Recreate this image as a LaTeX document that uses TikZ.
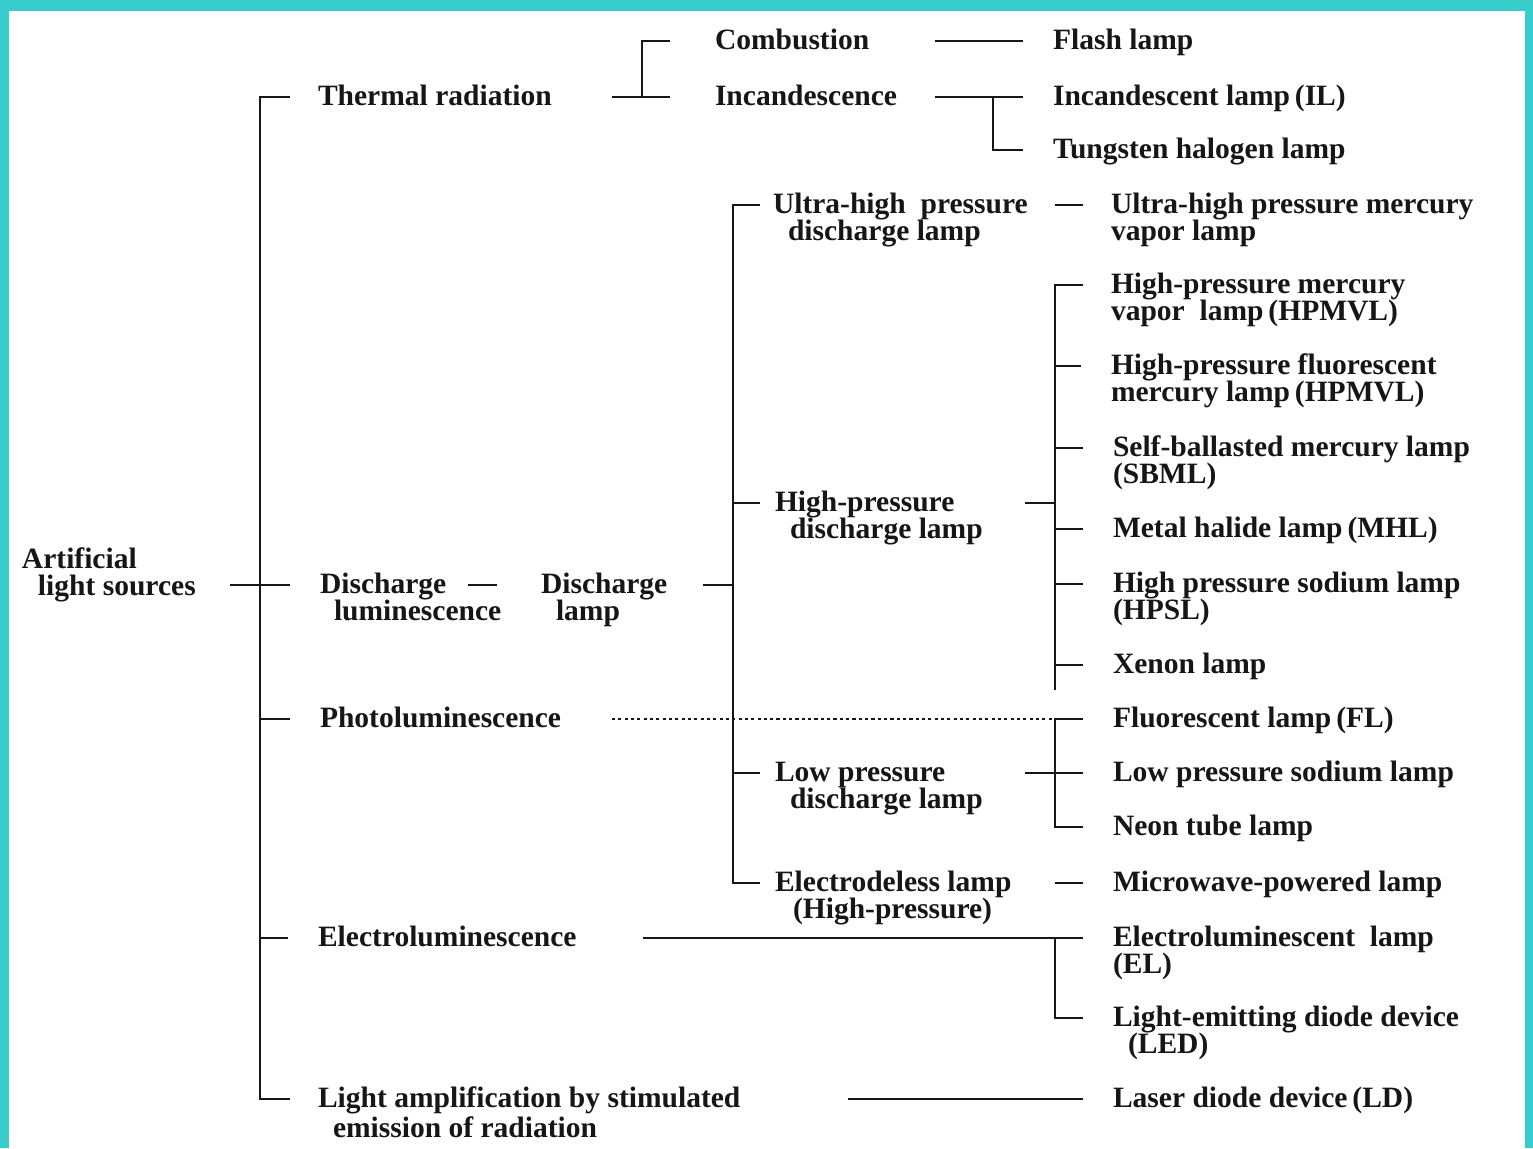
\documentclass[tikz,border=0pt]{standalone}
\usepackage{fontspec}
\setmainfont{Liberation Serif}
\usetikzlibrary{calc}
\definecolor{Frame}{HTML}{38CCCC}
\definecolor{Ink}  {HTML}{161616}
% two-line label, baseline on the first line
\newcommand{\twoline}[2]{\vtop{\hbox{#1}\hbox{#2}}}
\tikzset{
  lbl/.style={
    anchor=mid west, inner sep=0pt, outer sep=0pt,
    text=Ink,
    font=\fontsize{8.4}{7.7}\selectfont\bfseries,
  },
  wire/.style={draw=Ink, line width=0.75pt},
  dots/.style={wire, dash pattern=on 0.9pt off 0.9pt},
}
\begin{document}
\begin{tikzpicture}[x=1cm,y=1cm]

    % frame
    \fill[Frame] (0,0) rectangle (15.33,-11.48);
    \fill[white] (0.09,-0.11) rectangle (15.25,-11.48);

    % columns of the tree
    \coordinate (rootout) at ( 2.30,0);
    \coordinate (trunk)   at ( 2.60,0);
    \coordinate (dout)    at ( 4.68,0);
    \coordinate (tout)    at ( 6.12,0);
    \coordinate (tbus)    at ( 6.42,0);
    \coordinate (eout)    at ( 6.43,0);
    \coordinate (lout)    at ( 7.03,0);
    \coordinate (dbus)    at ( 7.33,0);
    \coordinate (laout)   at ( 8.48,0);
    \coordinate (cout)    at ( 9.35,0);
    \coordinate (ibus)    at ( 9.93,0);
    \coordinate (hin)     at (10.25,0);
    \coordinate (hbus)    at (10.55,0);

    \node[lbl] (root)    at (0.22,-5.60) {\twoline{Artificial}{\hspace*{1.6mm}light sources}};

    \node[lbl] (thermal) at (3.18,-0.97) {Thermal radiation};
    \node[lbl] (dlum)    at (3.20,-5.85) {\twoline{Discharge}{\hspace*{1.4mm}luminescence}};
    \node[lbl] (photo)   at (3.20,-7.19) {Photoluminescence};
    \node[lbl] (electro) at (3.18,-9.38) {Electroluminescence};
    \node[lbl] (laser)   at (3.18,-10.99) {\twoline{Light amplification by stimulated}{\hspace*{1.5mm}emission of radiation}};

    \node[lbl] (comb)    at (7.15,-0.41) {Combustion};
    \node[lbl] (incand)  at (7.15,-0.97) {Incandescence};
    \node[lbl] (dlamp)   at (5.41,-5.85) {\twoline{Discharge}{\hspace*{1.5mm}lamp}};

    \node[lbl] (uhp)     at (7.73,-2.05) {\twoline{Ultra-high\enspace pressure}{\hspace*{1.5mm}discharge lamp}};
    \node[lbl] (hpd)     at (7.75,-5.03) {\twoline{High-pressure}{\hspace*{1.5mm}discharge lamp}};
    \node[lbl] (lpd)     at (7.75,-7.73) {\twoline{Low pressure}{\hspace*{1.5mm}discharge lamp}};
    \node[lbl] (edl)     at (7.75,-8.83) {\twoline{Electrodeless lamp}{\hspace*{1.8mm}(High-pressure)}};

    \node[lbl] (flash)   at (10.53,-0.41) {Flash lamp};
    \node[lbl] (il)      at (10.53,-0.97) {Incandescent lamp\,(IL)};
    \node[lbl] (thl)     at (10.53,-1.50) {Tungsten halogen lamp};
    \node[lbl] (uhpm)    at (11.11,-2.05) {\twoline{Ultra-high pressure mercury}{vapor lamp}};
    \node[lbl] (hpmv)    at (11.11,-2.85) {\twoline{High-pressure mercury}{vapor\enspace lamp\,(HPMVL)}};
    \node[lbl] (hpfm)    at (11.11,-3.66) {\twoline{High-pressure fluorescent}{mercury lamp\,(HPMVL)}};
    \node[lbl] (sbml)    at (11.13,-4.48) {\twoline{Self-ballasted mercury lamp}{(SBML)}};
    \node[lbl] (mhl)     at (11.13,-5.29) {Metal halide lamp\,(MHL)};
    \node[lbl] (hpsl)    at (11.13,-5.84) {\twoline{High pressure sodium lamp}{(HPSL)}};
    \node[lbl] (xenon)   at (11.13,-6.65) {Xenon lamp};
    \node[lbl] (fl)      at (11.13,-7.19) {Fluorescent lamp\,(FL)};
    \node[lbl] (lps)     at (11.13,-7.73) {Low pressure sodium lamp};
    \node[lbl] (neon)    at (11.13,-8.27) {Neon tube lamp};
    \node[lbl] (mw)      at (11.13,-8.83) {Microwave-powered lamp};
    \node[lbl] (el)      at (11.13,-9.38) {\twoline{Electroluminescent\enspace lamp}{(EL)}};
    \node[lbl] (led)     at (11.13,-10.18) {\twoline{Light-emitting diode device}{\hspace*{1.5mm}(LED)}};
    \node[lbl] (ld)      at (11.13,-10.99) {Laser diode device\,(LD)};

    % trunk
    \draw[wire] ([xshift=-2.8mm]thermal.mid west) -| (trunk |- laser.mid west)
                -- ([xshift=-2.8mm]laser.mid west);
    \foreach \n in {dlum,photo,electro}
      \draw[wire] (trunk |- \n.mid west) -- ([xshift=-3mm]\n.mid west);
    \draw[wire] (rootout |- dlum.mid west) -- (trunk |- dlum.mid west);

    % thermal radiation
    \draw[wire] (tout |- thermal.mid west) -- ([xshift=-4.5mm]incand.mid west);
    \draw[wire] (tbus |- incand.mid west) |- ([xshift=-4.5mm]comb.mid west);
    \draw[wire] (cout |- comb.mid west) -- ([xshift=-3mm]flash.mid west);
    \draw[wire] (cout |- incand.mid west) -- ([xshift=-3mm]il.mid west);
    \draw[wire] (ibus |- il.mid west) |- ([xshift=-3mm]thl.mid west);

    % discharge
    \draw[wire] (dout |- dlum.mid west) -- ([xshift=-4.4mm]dlamp.mid west);
    \draw[wire] (lout |- dlamp.mid west) -- (dbus |- dlamp.mid west);
    \draw[wire] ([xshift=-1.3mm]uhp.mid west) -| (dbus |- edl.mid west)
                -- ([xshift=-1.5mm]edl.mid west);
    \foreach \n in {hpd,lpd}
      \draw[wire] (dbus |- \n.mid west) -- ([xshift=-1.5mm]\n.mid west);
    \draw[wire] (hbus |- uhp.mid west) -- ([xshift=-2.8mm]uhpm.mid west);

    % high pressure
    \draw[wire] (hin |- hpd.mid west) -- (hbus |- hpd.mid west);
    \draw[wire] ([xshift=-2.8mm]hpmv.mid west) -| ($(hbus |- xenon.mid west)+(0,-0.25)$);
    \foreach \n in {hpfm,sbml,mhl,hpsl,xenon}
      \draw[wire] (hbus |- \n.mid west) -- ([xshift=-3mm]\n.mid west);

    % low pressure / photoluminescence
    \draw[dots] (tout |- photo.mid west) -- (hbus |- photo.mid west);
    \draw[wire] ([xshift=-3mm]fl.mid west) -| (hbus |- neon.mid west)
                -- ([xshift=-3mm]neon.mid west);
    \draw[wire] (hin |- lpd.mid west) -- ([xshift=-3mm]lps.mid west);
    \draw[wire] (hbus |- edl.mid west) -- ([xshift=-3mm]mw.mid west);

    % electroluminescence, laser
    \draw[wire] (eout |- electro.mid west) -- ([xshift=-3mm]el.mid west);
    \draw[wire] (hbus |- el.mid west) |- ([xshift=-3mm]led.mid west);
    \draw[wire] (laout |- laser.mid west) -- ([xshift=-3mm]ld.mid west);

\end{tikzpicture}
\end{document}
